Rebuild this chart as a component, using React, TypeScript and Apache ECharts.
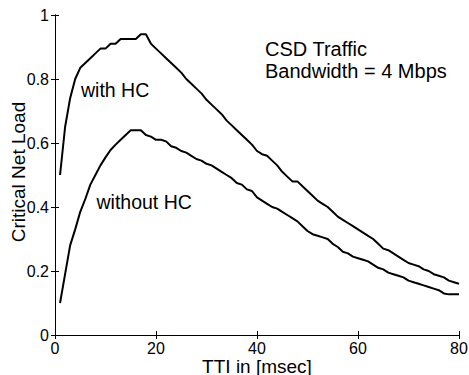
import React, { useEffect, useRef } from "react";
import * as echarts from "echarts";

const tti: number[] = Array.from({ length: 80 }, (_, i) => i + 1);

const withHC: number[] = [
  0.5, 0.65, 0.74, 0.8, 0.835, 0.85, 0.865, 0.88, 0.895, 0.895,
  0.91, 0.91, 0.925, 0.925, 0.925, 0.925, 0.94, 0.94, 0.91, 0.895,
  0.88, 0.865, 0.85, 0.835, 0.82, 0.8, 0.785, 0.77, 0.755, 0.735,
  0.72, 0.705, 0.69, 0.67, 0.655, 0.64, 0.625, 0.61, 0.595, 0.575,
  0.565, 0.56, 0.545, 0.53, 0.51, 0.495, 0.48, 0.48, 0.465, 0.45,
  0.435, 0.42, 0.41, 0.4, 0.385, 0.37, 0.36, 0.35, 0.34, 0.33,
  0.32, 0.31, 0.3, 0.285, 0.27, 0.265, 0.255, 0.245, 0.235, 0.225,
  0.22, 0.215, 0.205, 0.2, 0.19, 0.185, 0.18, 0.17, 0.165, 0.16,
];

const withoutHC: number[] = [
  0.1, 0.19, 0.28, 0.33, 0.385, 0.425, 0.47, 0.5, 0.53, 0.555,
  0.578, 0.595, 0.61, 0.625, 0.64, 0.64, 0.64, 0.625, 0.62, 0.61,
  0.61, 0.605, 0.59, 0.585, 0.575, 0.57, 0.56, 0.55, 0.545, 0.535,
  0.53, 0.52, 0.51, 0.5, 0.49, 0.475, 0.47, 0.455, 0.45, 0.43,
  0.42, 0.41, 0.4, 0.395, 0.385, 0.375, 0.365, 0.355, 0.34, 0.325,
  0.315, 0.31, 0.305, 0.3, 0.285, 0.275, 0.26, 0.255, 0.245, 0.24,
  0.235, 0.23, 0.22, 0.21, 0.205, 0.195, 0.19, 0.185, 0.18, 0.17,
  0.165, 0.16, 0.155, 0.15, 0.145, 0.14, 0.13, 0.127, 0.127, 0.127,
];

const xTicks = { min: 0, max: 80, interval: 20 };
const yTicks = { min: 0, max: 1, interval: 0.2 };

const xTitle = "TTI in [msec]";
const yTitle = "Critical Net Load";

const FONT = "Liberation Sans, Arial, Helvetica, sans-serif";

export default function App() {
  const ref = useRef<HTMLDivElement>(null);
  useEffect(() => {
    if (!ref.current) return;
    const chart = echarts.init(ref.current, undefined, { renderer: "svg" });
    const axisLine = { show: true, lineStyle: { color: "#000", width: 1 } };
    const tick = { show: true, inside: true, length: 4, lineStyle: { color: "#000" } };
    chart.setOption({
      animation: false,
      backgroundColor: "#fff",
      textStyle: { fontFamily: FONT },
      grid: { left: 55, top: 15, right: 10, bottom: 40, containLabel: false, outerBoundsMode: "none" },
      xAxis: [
        {
          type: "value",
          ...xTicks,
          axisLine,
          axisTick: tick,
          splitLine: { show: false },
          axisLabel: { color: "#000", fontSize: 16, fontFamily: FONT, margin: 5 },
        },
        {
          type: "value",
          position: "top",
          ...xTicks,
          axisLine,
          axisTick: tick,
          splitLine: { show: false },
          axisLabel: { show: false },
        },
      ],
      yAxis: [
        {
          type: "value",
          ...yTicks,
          axisLine,
          axisTick: tick,
          splitLine: { show: false },
          axisLabel: { color: "#000", fontSize: 16, fontFamily: FONT, margin: 6 },
        },
        {
          type: "value",
          position: "right",
          ...yTicks,
          axisLine,
          axisTick: tick,
          splitLine: { show: false },
          axisLabel: { show: false },
        },
      ],
      series: [
        {
          name: "with HC",
          type: "line",
          data: tti.map((t, i) => [t, withHC[i]]),
          showSymbol: false,
          lineStyle: { color: "#000", width: 2 },
          itemStyle: { color: "#000" },
        },
        {
          name: "without HC",
          type: "line",
          data: tti.map((t, i) => [t, withoutHC[i]]),
          showSymbol: false,
          lineStyle: { color: "#000", width: 2 },
          itemStyle: { color: "#000" },
        },
      ],
      graphic: [
        {
          type: "text",
          x: 257,
          y: 366,
          style: { text: xTitle, fill: "#000", font: `19px ${FONT}`, textAlign: "center", textVerticalAlign: "middle" },
        },
        {
          type: "text",
          x: 18.5,
          y: 172,
          rotation: Math.PI / 2,
          style: { text: yTitle, fill: "#000", font: `19px ${FONT}`, textAlign: "center", textVerticalAlign: "middle" },
        },
        {
          type: "text",
          x: 81,
          y: 90,
          style: { text: "with HC", fill: "#000", font: `19.5px ${FONT}`, textAlign: "left", textVerticalAlign: "middle" },
        },
        {
          type: "text",
          x: 96.5,
          y: 202,
          style: { text: "without HC", fill: "#000", font: `19.5px ${FONT}`, textAlign: "left", textVerticalAlign: "middle" },
        },
        {
          type: "text",
          x: 265,
          y: 48.5,
          style: { text: "CSD Traffic", fill: "#000", font: `20px ${FONT}`, textAlign: "left", textVerticalAlign: "middle" },
        },
        {
          type: "text",
          x: 265,
          y: 71,
          style: { text: "Bandwidth = 4 Mbps", fill: "#000", font: `20px ${FONT}`, textAlign: "left", textVerticalAlign: "middle" },
        },
      ],
    });
    return () => chart.dispose();
  }, []);
  return <div ref={ref} style={{ width: 469, height: 375, position: "absolute", left: 0, top: 0 }} />;
}
